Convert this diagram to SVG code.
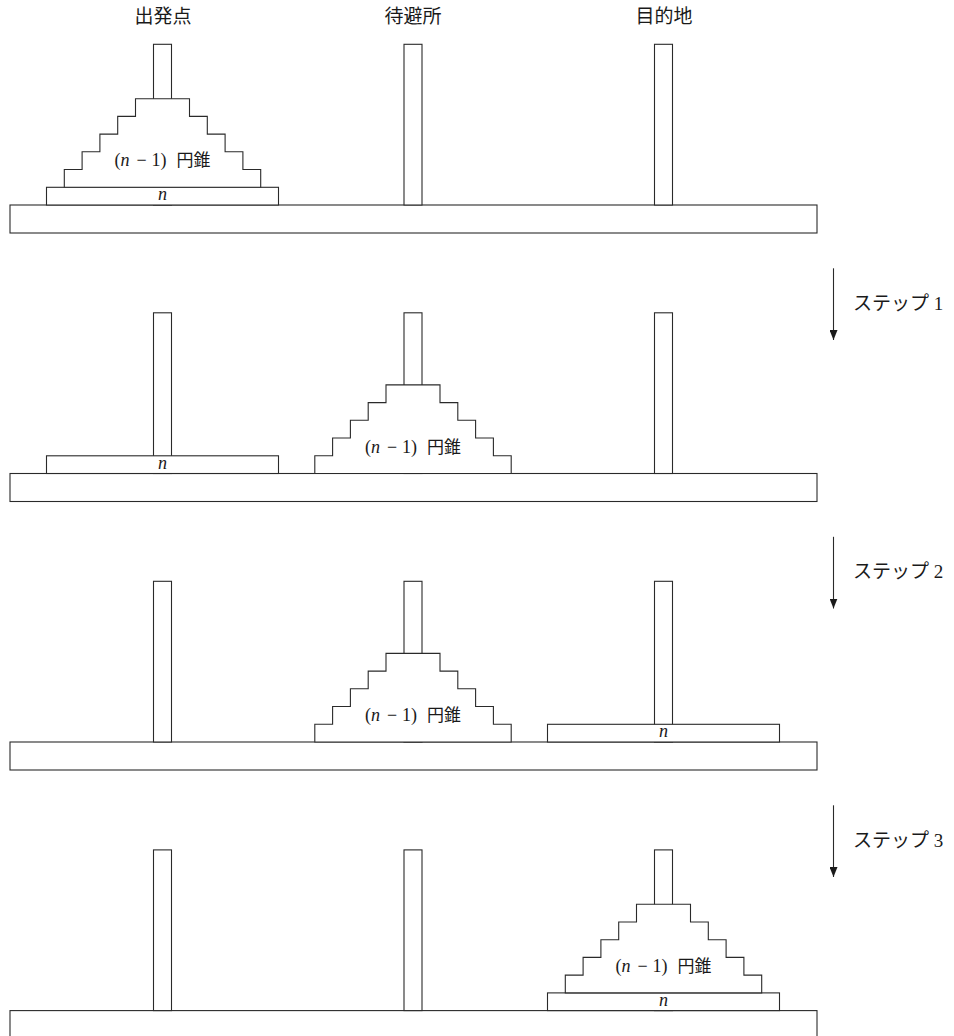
<svg xmlns="http://www.w3.org/2000/svg" xmlns:xlink="http://www.w3.org/1999/xlink" width="954" height="1036" viewBox="0 0 954 1036">
<style>
  .sh { fill: #ffffff; stroke: #2a2a2a; stroke-width: 1.1; }
  .t { font-family: "Liberation Serif", "Noto Sans CJK JP", serif; fill: #1a1a1a; }
  .cj { font-family: "Noto Sans CJK JP", "Liberation Serif", sans-serif; fill: #1a1a1a; }
  .lbl { font-size: 18px; text-anchor: middle; }
  .head { font-size: 19px; text-anchor: middle; }
  .step { font-size: 19px; }
  .ar { stroke: #2a2a2a; stroke-width: 1.1; fill: none; }
</style>
<defs>
  <marker id="ah" viewBox="0 0 10 8" refX="10" refY="4" markerWidth="10" markerHeight="8" markerUnits="userSpaceOnUse" orient="auto">
    <path d="M0,0 L10,4 L0,8 Z" fill="#1a1a1a"/>
  </marker>
  <g id="cone">
    <path class="sh" d="M-98.2,0 V-17.8 H-80.4 V-35.5 H-62.6 V-53.2 H-44.8 V-70.9 H-27 V-88.6 H27 V-70.9 H44.8 V-53.2 H62.6 V-35.5 H80.4 V-17.8 H98.2 V0 Z"/>
    <text class="t lbl" x="0" y="-21">(<tspan font-style="italic">n</tspan><tspan dx="7">−</tspan><tspan dx="5">1)</tspan><tspan class="cj" dx="10" font-size="17">円錐</tspan></text>
  </g>
  <g id="disk">
    <rect class="sh" x="-116" y="-17.7" width="232" height="17.7"/>
    <text class="t lbl" x="0" y="-5" font-style="italic">n</text>
  </g>
  <g id="frame">
    <rect class="sh" x="10" y="205" width="807" height="28"/>
    <rect class="sh" x="153.5" y="44.3" width="18" height="160.7"/>
    <rect class="sh" x="404" y="44.3" width="18" height="160.7"/>
    <rect class="sh" x="654.5" y="44.3" width="18" height="160.7"/>
  </g>
</defs>

<g id="headings">
  <text class="cj head" x="163" y="23">出発点</text>
  <text class="cj head" x="413" y="23">待避所</text>
  <text class="cj head" x="664" y="23">目的地</text>
</g>

<g id="panel1">
  <use xlink:href="#frame"/>
  <use xlink:href="#disk" x="162.5" y="205"/>
  <use xlink:href="#cone" x="162.5" y="187.3"/>
</g>

<g id="panel2" transform="translate(0,268.5)">
  <use xlink:href="#frame"/>
  <use xlink:href="#disk" x="162.5" y="205"/>
  <use xlink:href="#cone" x="413" y="205"/>
</g>

<g id="panel3" transform="translate(0,537)">
  <use xlink:href="#frame"/>
  <use xlink:href="#cone" x="413" y="205"/>
  <use xlink:href="#disk" x="663.5" y="205"/>
</g>

<g id="panel4" transform="translate(0,805.6)">
  <use xlink:href="#frame"/>
  <use xlink:href="#disk" x="663.5" y="205"/>
  <use xlink:href="#cone" x="663.5" y="187.3"/>
</g>

<g id="connectors">
  <line class="ar" x1="833.5" y1="268.3" x2="833.5" y2="340" marker-end="url(#ah)"/>
  <line class="ar" x1="833.5" y1="536.8" x2="833.5" y2="608.5" marker-end="url(#ah)"/>
  <line class="ar" x1="833.5" y1="805.3" x2="833.5" y2="877" marker-end="url(#ah)"/>
</g>

<g id="step-labels">
  <text class="t step" x="853" y="309.5"><tspan class="cj">ステップ</tspan> 1</text>
  <text class="t step" x="853" y="578"><tspan class="cj">ステップ</tspan> 2</text>
  <text class="t step" x="853" y="846.5"><tspan class="cj">ステップ</tspan> 3</text>
</g>
</svg>
